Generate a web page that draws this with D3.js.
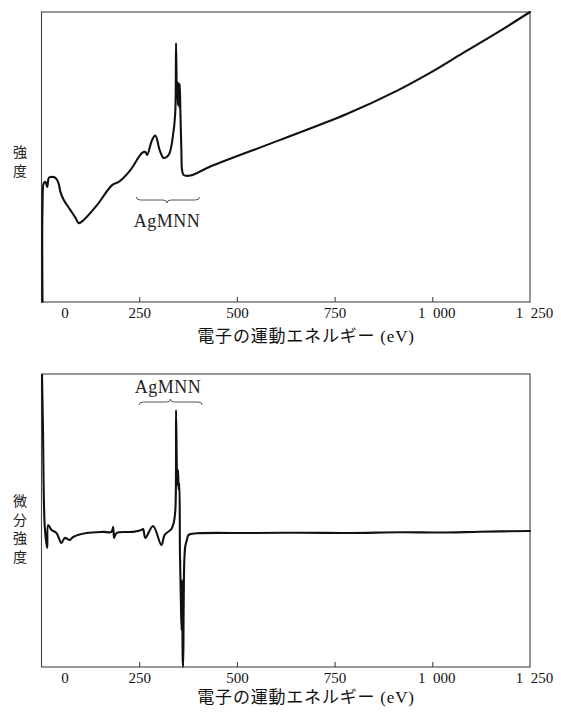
<!DOCTYPE html>
<html><head><meta charset="utf-8">
<script src="https://cdn.jsdelivr.net/npm/d3@7"></script>
<style>body{margin:0;background:#fff}svg{display:block}</style>
</head><body><svg id="c" width="561" height="712"></svg>
<script>
// ---- data ----
const xTicks = [0, 250, 500, 750, 1000, 1250];
const xTickLabels = ["0", "250", "500", "750", "1\u2002000", "1\u2002250"];
const xTitle = "電子の運動エネルギー (eV)";
const topYLabel = ["強", "度"];
const bottomYLabel = ["微", "分", "強", "度"];
const peakLabel = "AgMNN";
const topBrace = [243, 321, 404];
const bottomBrace = [250, 330, 411];

const topEnergy = [2.6, 2.6, 5.9, 10.2, 14.6, 18.7, 23, 35.8, 43.5, 48.6, 57, 74, 87, 95.3, 108, 142, 180.7, 197.6, 227.5, 257.4, 265.8, 270.2, 283, 291.4, 302.4, 312.6, 325.4, 338.2, 342.5, 344.3, 346.4, 347.6, 349, 350.7, 352.3, 353.8, 355.3, 357.9, 359.7, 363.7, 380.9, 432, 611, 781, 909, 994, 1079, 1165, 1250];
const topIntensity = [0, 32.8, 41.0, 41.4, 39.7, 42.8, 43.1, 42.8, 41.0, 37.9, 35.2, 31.7, 29.0, 27.2, 28.3, 33.4, 40.3, 41.4, 45.5, 51.4, 51.7, 50.7, 55.9, 57.4, 52.4, 49.7, 50.7, 59.3, 66.2, 89.3, 71.4, 75.9, 67.9, 75.5, 67.2, 75.2, 66.2, 52.4, 45.5, 43.8, 43.6, 46.7, 55.9, 64.8, 72.8, 79.0, 85.9, 92.8, 100];

const diffEnergy = [1.3, 3.8, 8.4, 14.6, 17.1, 25.6, 38.3, 51.1, 59.6, 72.3, 81, 115, 157.7, 178.9, 183.3, 185.8, 191.7, 234.4, 255.6, 260, 265.8, 285.5, 306.7, 315.2, 332.3, 338.2, 342.5, 344.3, 346.4, 347.6, 349.4, 351, 352.7, 354.3, 356.6, 358.4, 359.9, 361.4, 362.5, 363.7, 365.5, 368, 371.9, 376.5, 398, 534, 662, 790, 918, 1020, 1122, 1250];
const diffIntensity = [99.4, 64.7, 3.4, -9.8, 4.7, 1.5, -0.4, -6.7, -3.5, -4.8, -2.9, -0.4, 0.3, 0.3, 3.4, -3.5, -0.4, 0.3, 1.5, 2.1, -3.5, 4.0, -8.0, -1.6, 2.1, 5.9, 14.1, 77.3, 39.4, 29.9, 39.4, 26.7, 31.1, -13.0, -42.7, -61.6, -30.1, -80.5, -84.9, -49, -17.4, -8.6, -4.8, -1.6, -0.6, -0.4, -0.2, -0.4, 0.1, -0.1, 0.4, 0.9];

// ---- drawing ----
const svg = d3.select("#c");
const serif = "'Liberation Serif','DejaVu Serif','Noto Sans CJK JP',serif";
const cjk = "'Liberation Serif','Noto Sans CJK JP',sans-serif";
const x = d3.scaleLinear().domain([0, 1250]).range([41.5, 530]);

function panel(opts) {
  const y = d3.scaleLinear().domain(opts.domain).range([opts.bottom, opts.top]);
  const g = svg.append("g");
  g.append("rect").attr("x", x(0)).attr("y", opts.top)
    .attr("width", x(1250) - x(0)).attr("height", opts.bottom - opts.top)
    .attr("fill", "none").attr("stroke", "#444").attr("stroke-width", 1.1);
  const ax = g.append("g").attr("transform", `translate(0,${opts.bottom})`)
    .call(d3.axisBottom(x).tickValues(xTicks).tickFormat((d, i) => xTickLabels[i])
      .tickSizeInner(-5).tickSizeOuter(0).tickPadding(5));
  ax.select(".domain").remove();
  ax.selectAll(".tick line").attr("stroke", "#444").attr("stroke-width", 1.1)
    .filter(d => d === 0 || d === 1250).remove();
  ax.selectAll(".tick text").attr("font-family", serif).attr("font-size", 15)
    .attr("fill", "#111").attr("dx", d => d === 0 ? 23 : (d >= 1000 ? 4 : 0));
  g.append("text").attr("x", 306).attr("y", opts.bottom + opts.titleDy)
    .attr("text-anchor", "middle").attr("font-family", cjk).attr("font-size", 17)
    .attr("letter-spacing", 0.8).attr("fill", "#111").text(xTitle);
  opts.ylabel.forEach((ch, i) => {
    g.append("text").attr("x", 20).attr("y", opts.ylabelY + i * opts.ylabelStep)
      .attr("text-anchor", "middle").attr("dominant-baseline", "central")
      .attr("font-family", "'Noto Sans CJK JP',sans-serif").attr("font-size", 14)
      .attr("fill", "#222").text(ch);
  });
  const pts = opts.ex.map((e, i) => [e, opts.vals[i]]);
  g.append("path").datum(pts)
    .attr("d", d3.line().x(d => x(d[0])).y(d => y(d[1])).curve(d3.curveCatmullRom.alpha(0.5)))
    .attr("fill", "none").attr("stroke", "#111").attr("stroke-width", 2.1)
    .attr("stroke-linejoin", "round").attr("stroke-linecap", "round");
  const [b0, bm, b1] = opts.brace.map(x);
  const s = opts.braceDir;
  const yb = opts.braceY;
  const p = `M${b0},${yb - 3 * s} Q${b0},${yb} ${b0 + 4},${yb} L${bm - 4},${yb} Q${bm},${yb} ${bm},${yb + 3 * s} Q${bm},${yb} ${bm + 4},${yb} L${b1 - 4},${yb} Q${b1},${yb} ${b1},${yb - 3 * s}`;
  g.append("path").attr("d", p).attr("fill", "none").attr("stroke", "#555").attr("stroke-width", 1);
  g.append("text").attr("x", opts.labelX).attr("y", opts.labelY).attr("text-anchor", "middle")
    .attr("font-family", serif).attr("font-size", 18).attr("letter-spacing", 0.5)
    .attr("fill", "#222").text(peakLabel);
}

panel({
  top: 12, bottom: 302, domain: [0, 100], ex: topEnergy, vals: topIntensity,
  titleDy: 40, ylabel: topYLabel, ylabelY: 150.5, ylabelStep: 19,
  brace: topBrace, braceDir: 1, braceY: 200, labelX: 167, labelY: 227
});
panel({
  top: 374, bottom: 667, domain: [-85, 100], ex: diffEnergy, vals: diffIntensity,
  titleDy: 36, ylabel: bottomYLabel, ylabelY: 500, ylabelStep: 18.5,
  brace: bottomBrace, braceDir: -1, braceY: 402, labelX: 168, labelY: 393
});
</script>
</body></html>
